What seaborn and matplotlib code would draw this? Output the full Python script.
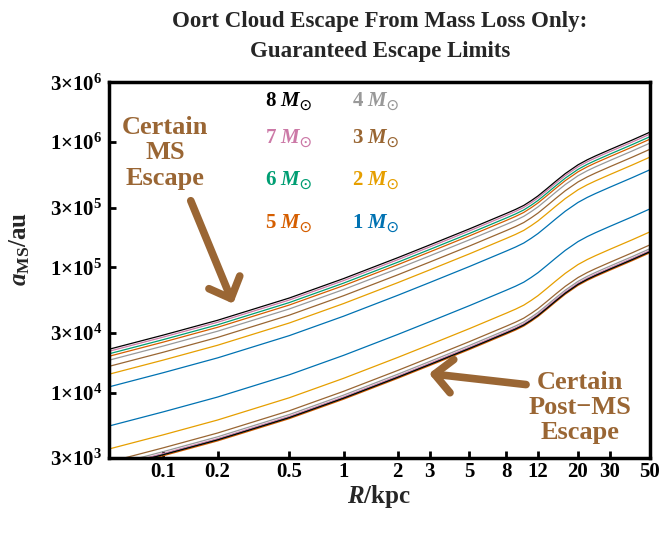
import matplotlib
matplotlib.use("Agg")
import matplotlib.pyplot as plt
import matplotlib.ticker as mticker
import pandas as pd
import seaborn as sns

R_kpc = [0.05, 0.1, 0.2, 0.5, 1, 2, 3, 5, 8, 9, 10, 11, 12, 13.5, 15, 17, 20, 22.5, 25, 30, 40, 50]

# Certain MS escape limits, a_MS in au
ms_8 = [22200, 28800, 37800, 56900, 81300, 119400, 150700, 202800, 269200, 289700, 311900, 340400,
        371500, 426600, 484200, 559800, 657700, 721100, 774500, 869000, 1037500, 1196700]
ms_7 = [21400, 27760, 36440, 54850, 78370, 115100, 145270, 195500, 259500, 279270, 300670, 328150,
        358130, 411240, 466770, 539650, 634020, 695140, 746620, 837720, 1000150, 1153620]
ms_6 = [20420, 26500, 34780, 52350, 74800, 109850, 138640, 186580, 247660, 266520, 286950, 313170,
        341780, 392470, 445460, 515020, 605080, 663410, 712540, 799480, 954500, 1100960]
ms_5 = [19510, 25320, 33230, 50020, 71460, 104950, 132470, 178260, 236630, 254650, 274160, 299210,
        326550, 374980, 425610, 492060, 578120, 633850, 680790, 763850, 911960, 1051900]
ms_4 = [18160, 23560, 30920, 46540, 66500, 97670, 123270, 165890, 220210, 236970, 255130, 278450,
        303890, 348960, 396080, 457920, 538000, 589860, 633540, 710840, 848680, 978900]
ms_3 = [16210, 21020, 27590, 41540, 59350, 87160, 110010, 148040, 196520, 211480, 227690, 248490,
        271200, 311420, 353470, 408650, 480120, 526400, 565390, 634370, 757380, 873590]
ms_2 = [14030, 18200, 23890, 35960, 51380, 75460, 95240, 128170, 170130, 183090, 197120, 215130,
        234790, 269610, 306010, 353790, 415670, 455740, 489480, 549210, 655700, 756310]
ms_1 = [11120, 14430, 18940, 28510, 40730, 59820, 75500, 101600, 134870, 145140, 156260, 170540,
        186120, 213730, 242580, 280460, 329510, 361270, 388020, 435370, 519790, 599550]

# Certain post-MS escape limits, a_MS in au
post_8 = [2464, 3197, 4196, 6316, 9024, 13253, 16728, 22511, 29881, 32157, 34621, 37784,
          41237, 47353, 53746, 62138, 73005, 80042, 85970, 96459, 115163, 132834]
post_7 = [2520, 3269, 4290, 6458, 9228, 13552, 17104, 23018, 30554, 32881, 35401, 38635,
          42165, 48419, 54957, 63537, 74649, 81845, 87906, 98632, 117756, 135825]
post_6 = [2486, 3226, 4234, 6373, 9106, 13373, 16878, 22714, 30150, 32446, 34933, 38125,
          41608, 47779, 54230, 62698, 73662, 80763, 86744, 97328, 116200, 134030]
post_5 = [2420, 3139, 4120, 6202, 8862, 13015, 16426, 22105, 29343, 31577, 33997, 37104,
          40494, 46499, 52778, 61018, 71689, 78600, 84421, 94721, 113088, 130440]
post_4 = [2609, 3384, 4442, 6686, 9553, 14030, 17707, 23829, 31631, 34040, 36648, 39997,
          43651, 50126, 56894, 65777, 77280, 84729, 91004, 102108, 121906, 140612]
post_3 = [2797, 3629, 4763, 7169, 10244, 15044, 18988, 25553, 33919, 36502, 39299, 42890,
          46809, 53752, 61009, 70535, 82870, 90859, 97587, 109494, 130725, 150784]
post_2 = [3552, 4608, 6048, 9104, 13008, 19104, 24112, 32448, 43072, 46352, 49904, 54464,
          59440, 68256, 77472, 89568, 105232, 115376, 123920, 139040, 166000, 191472]
post_1 = [5417, 7027, 9223, 13884, 19837, 29134, 36771, 49483, 65685, 70687, 76104, 83058,
          90646, 104090, 118145, 136591, 160479, 175948, 188978, 212036, 253150, 291995]

masses = [8, 7, 6, 5, 4, 3, 2, 1]
colors = ["#000000", "#CC79A7", "#009E73", "#D55E00", "#999999", "#996633", "#E69F00", "#0072B2"]
ms_curves = [ms_8, ms_7, ms_6, ms_5, ms_4, ms_3, ms_2, ms_1]
post_curves = [post_8, post_7, post_6, post_5, post_4, post_3, post_2, post_1]

x_ticks = [0.1, 0.2, 0.5, 1, 2, 3, 5, 8, 12, 20, 30, 50]
x_labels = ["0.1", "0.2", "0.5", "1", "2", "3", "5", "8", "12", "20", "30", "50"]
y_ticks = [3e3, 1e4, 3e4, 1e5, 3e5, 1e6, 3e6]
y_labels = [r"$3{\times}10^{3}$", r"$1{\times}10^{4}$", r"$3{\times}10^{4}$", r"$1{\times}10^{5}$",
            r"$3{\times}10^{5}$", r"$1{\times}10^{6}$", r"$3{\times}10^{6}$"]

rows = []
for group, curves in [("MS", ms_curves), ("post", post_curves)]:
    for m, vals in zip(masses, curves):
        for r, a in zip(R_kpc, vals):
            rows.append({"R": r, "a": a, "mass": m, "group": group})
df = pd.DataFrame(rows)

sns.set_style("ticks")
plt.rcParams["font.family"] = ["Liberation Serif", "DejaVu Serif"]
plt.rcParams["font.weight"] = "bold"
plt.rcParams["mathtext.fontset"] = "custom"
plt.rcParams["mathtext.rm"] = "Liberation Serif:bold"
plt.rcParams["mathtext.bf"] = "Liberation Serif:bold"
plt.rcParams["mathtext.it"] = "Liberation Serif:italic:bold"
plt.rcParams["mathtext.fallback"] = "stix"

brown = "#9A6634"

fig = plt.figure(figsize=(6.65, 5.34), dpi=100)
ax = fig.add_axes([0.164, 0.142, 0.813, 0.704])

sns.lineplot(data=df, x="R", y="a", hue="mass", units="group", estimator=None,
             palette=dict(zip(masses, colors)), hue_order=masses[::-1],
             lw=0.9, legend=False, sort=False, ax=ax)

ax.set_xscale("log")
ax.set_yscale("log")
ax.set_xlim(0.05, 50)
ax.set_ylim(3e3, 3e6)
ax.set_xticks(x_ticks)
ax.set_xticklabels(x_labels)
ax.set_yticks(y_ticks)
ax.set_yticklabels(y_labels)
ax.xaxis.set_minor_locator(mticker.NullLocator())
ax.yaxis.set_minor_locator(mticker.NullLocator())
ax.tick_params(direction="in", length=5, width=2, labelsize=15, colors="black", pad=3)
ax.tick_params(axis="y", pad=5)
for s in ax.spines.values():
    s.set_linewidth(2.5)
    s.set_color("black")

ax.set_xlabel(r"$R$/kpc", fontsize=18, fontweight="bold")
ax.set_ylabel(r"$a_{\rm MS}$/au", fontsize=18, fontweight="bold")
ax.xaxis.set_label_coords(0.5, -0.066)
ax.yaxis.set_label_coords(-0.142, 0.556)

fig.text(0.571, 0.931, "Oort Cloud Escape From Mass Loss Only:\nGuaranteed Escape Limits",
         ha="center", va="center", fontsize=16.5, fontweight="bold", linespacing=1.55)

# mass labels in place of a legend
label_x = [0.288, 0.288, 0.288, 0.288, 0.449, 0.449, 0.449, 0.449]
label_y = [0.936, 0.838, 0.726, 0.612, 0.936, 0.838, 0.726, 0.612]
for m, c, lx, ly in zip(masses, colors, label_x, label_y):
    ax.text(lx, ly, f"{m} " + r"$M_{\odot}$", color=c, fontsize=15, fontweight="bold",
            transform=ax.transAxes, ha="left", va="baseline")

ax.text(0.1035, 0.812, "Certain\nMS\nEscape", color=brown, fontsize=19, fontweight="bold",
        ha="center", va="center", linespacing=1.12, transform=ax.transAxes)
ax.text(0.8706, 0.1356, "Certain\nPost\u2212MS\nEscape", color=brown, fontsize=19, fontweight="bold",
        ha="center", va="center", linespacing=1.12, transform=ax.transAxes)

arrow = dict(arrowstyle="->,head_length=0.63,head_width=0.6", lw=5.5, color=brown,
             mutation_scale=20, shrinkA=0, shrinkB=0)
ax.annotate("", xy=(0.244, 5.13e4), xytext=(0.142, 3.4e5), arrowprops=arrow)
ax.annotate("", xy=(2.98, 1.42e4), xytext=(10.3, 1.16e4), arrowprops=arrow)

fig.savefig("out.png", dpi=100)
